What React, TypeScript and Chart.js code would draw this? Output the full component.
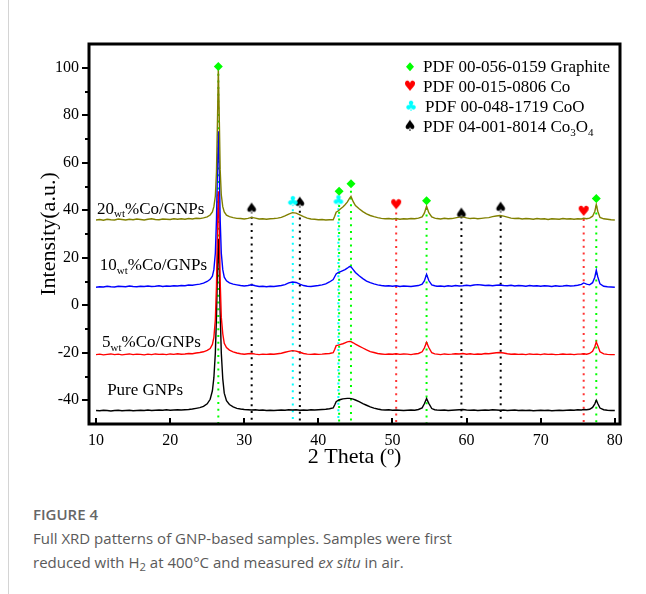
import React, { useEffect, useRef } from 'react';
import { Chart, registerables } from 'chart.js';
Chart.register(...registerables);

const SERIF = "'Liberation Serif', 'Times New Roman', serif";
Chart.defaults.font.family = SERIF;

// ---- axes ----
const X_TICKS = [10, 20, 30, 40, 50, 60, 70, 80];
const Y_TICKS = [-40, -20, 0, 20, 40, 60, 80, 100];
const Y_MINOR = [-30, -10, 10, 30, 50, 70, 90];

// ---- 2θ positions shared by all patterns ----
const TWO_THETA = [
  10, 10.5, 11, 11.5, 12, 12.5, 13, 13.5, 14, 14.5, 15, 15.5, 16, 16.5, 17, 17.5, 18, 18.5, 19, 19.5, 20, 20.5, 21, 21.5, 22, 22.5, 23, 23.5, 24, 24.5, 25,
  25.4, 25.7, 25.9, 26.1, 26.25, 26.4, 26.5, 26.6, 26.75, 26.9, 27.1, 27.3, 27.6,
  28, 28.5, 29, 29.5, 30, 30.5, 31, 31.5, 32, 32.5, 33, 33.5, 34, 34.5, 35, 35.5, 36, 36.5, 37, 37.5, 38, 38.5, 39, 39.5, 40, 40.5, 41, 41.5, 42,
  42.2, 42.4, 42.7, 43, 43.3, 43.6, 43.9, 44.2, 44.4, 44.7, 45,
  45.5, 46, 46.5, 47, 47.5, 48, 48.5, 49, 49.5, 50, 50.5, 51, 51.5, 52, 52.5, 53, 53.5, 54,
  54.3, 54.6, 54.9, 55.3, 55.7,
  56, 56.5, 57, 57.5, 58, 58.5, 59, 59.5, 60, 60.5, 61, 61.5, 62, 62.5, 63, 63.5, 64, 64.5, 65, 65.5, 66, 66.5, 67, 67.5, 68, 68.5, 69, 69.5, 70, 70.5, 71, 71.5, 72, 72.5, 73, 73.5, 74, 74.5, 75, 75.5,
  75.8, 76.2, 76.6, 77, 77.3, 77.5, 77.7, 78,
  78.5, 79, 79.5, 80,
];

const CO20_GNPS = [
  35.9, 36.1, 35.8, 36.2, 36.0, 35.9, 36.3, 36.1, 35.9, 36.2, 36.0, 36.3, 36.1, 35.9, 36.2, 36.4, 36.1, 36.0, 36.3, 36.2, 36.1, 36.4, 36.2, 36.4, 36.2, 36.5, 36.3, 36.6, 36.5, 36.8, 37.2,
  38.0, 39.3, 41.5, 46, 56, 80, 100, 84, 57, 46.5, 41.5, 39.3, 37.9,
  37.3, 36.9, 36.6, 36.5, 36.3, 36.6, 37.0, 36.7, 36.3, 36.4, 36.2, 36.4, 36.5, 36.7, 37.0, 37.6, 38.4, 39.0, 38.8, 38.1, 37.3, 36.7, 36.3, 36.2, 36.0, 36.1, 35.9, 36.0, 36.0,
  37.5, 39.2, 39.8, 40.6, 41.4, 42.3, 43.4, 45.0, 45.8, 43.6, 42.0,
  40.6, 39.4, 38.5, 37.8, 37.3, 36.9, 36.6, 36.4, 36.5, 36.3, 36.5, 36.2, 36.4, 36.3, 36.5, 36.4, 36.7, 37.2,
  38.8, 41.7, 39.0, 37.2, 36.7,
  36.5, 36.3, 36.6, 36.4, 36.5, 36.8, 37.1, 37.2, 36.8, 36.5, 36.7, 36.4, 36.6, 36.8, 36.9, 37.3, 37.6, 37.8, 37.5, 37.1, 36.7, 36.5, 36.6, 36.3, 36.5, 36.4, 36.2, 36.5, 36.3, 36.4, 36.1, 36.4, 36.3, 36.2, 36.5, 36.3, 36.4, 36.2, 36.4, 36.3,
  36.6, 36.4, 36.7, 37.5, 39.5, 42.4, 39.6, 37.0,
  36.4, 36.2, 36.0, 35.9,
];

const CO10_GNPS = [
  7.6, 7.8, 7.7, 8.0, 7.8, 7.7, 8.0, 7.9, 7.8, 8.1, 7.9, 7.8, 8.0, 7.9, 8.1, 7.9, 8.0, 8.2, 7.9, 8.1, 8.0, 8.2, 8.1, 8.3, 8.2, 8.5, 8.4, 8.7, 8.9, 9.3, 10.0,
  10.9, 12.2, 15.0, 22, 36, 60, 73.3, 62, 36, 22, 15, 11.8, 10.3,
  9.4, 8.9, 8.6, 8.3, 8.1, 8.3, 8.6, 8.2, 7.9, 8.0, 7.8, 8.0, 7.9, 8.1, 8.3, 8.7, 9.4, 9.8, 9.6, 8.9, 8.3, 8.0, 7.9, 8.1, 8.3, 8.6, 9.0, 9.8, 10.8,
  12.0, 13.2, 13.8, 14.2, 14.6, 15.0, 15.6, 16.3, 16.2, 15.0, 13.8,
  12.4, 11.2, 10.2, 9.5, 9.0, 8.6, 8.3, 8.1, 8.2, 8.0, 8.2, 7.9, 8.1, 8.0, 7.9, 8.1, 8.3, 8.9,
  10.2, 13.0, 10.4, 8.6, 8.2,
  8.0, 8.1, 7.9, 8.2, 8.0, 8.3, 8.1, 8.2, 8.4, 8.2, 8.5, 8.7, 8.5, 8.3, 8.4, 8.2, 8.4, 8.5, 8.3, 8.2, 8.4, 8.1, 8.3, 8.2, 8.0, 8.3, 8.1, 8.2, 8.0, 8.2, 8.1, 7.9, 8.2, 8.0, 8.1, 8.3, 8.1, 8.2, 8.4, 8.8,
  9.4, 8.9, 8.6, 9.5, 11.8, 14.7, 12.0, 9.0,
  8.0, 7.8, 7.7, 7.6,
];

const CO5_GNPS = [
  -20.8, -20.6, -20.9, -20.7, -20.5, -20.8, -20.6, -20.9, -20.7, -20.5, -20.8, -20.6, -20.7, -20.9, -20.6, -20.8, -20.5, -20.7, -20.6, -20.8, -20.5, -20.7, -20.4, -20.6, -20.5, -20.3, -20.4, -20.1, -19.9, -19.6, -19.0,
  -18.2, -16.5, -13.5, -6, 8, 35, 48, 38, 10, -5, -12, -16, -17.8,
  -18.9, -19.6, -20.1, -20.4, -20.6, -20.4, -20.3, -20.6, -20.8, -20.6, -20.7, -20.5, -20.6, -20.4, -20.2, -19.8, -19.4, -19.1, -19.3, -19.8, -20.3, -20.6, -20.7, -20.5, -20.7, -20.6, -20.4, -20.3, -20.0,
  -18.6, -17.0, -16.8, -16.5, -16.2, -15.8, -15.4, -15.2, -15.3, -15.8, -16.4,
  -17.2, -18.0, -18.8, -19.5, -19.9, -20.3, -20.5, -20.7, -20.5, -20.6, -20.4, -20.7, -20.5, -20.6, -20.8, -20.5, -20.3, -19.6,
  -18.0, -15.6, -17.8, -20.0, -20.5,
  -20.6, -20.8, -20.5, -20.7, -20.6, -20.4, -20.5, -20.3, -20.6, -20.4, -20.7, -20.5, -20.6, -20.3, -20.4, -20.2, -20.0, -19.9, -20.1, -20.4, -20.6, -20.5, -20.7, -20.6, -20.8, -20.5, -20.7, -20.6, -20.8, -20.5, -20.7, -20.6, -20.8, -20.7, -20.5, -20.7, -20.6, -20.8, -20.6, -20.5,
  -20.4, -20.6, -20.3, -19.4, -17.5, -15.4, -17.0, -19.6,
  -20.5, -20.7, -20.8, -20.8,
];

const PURE_GNPS = [
  -44.3, -44.4, -44.2, -44.3, -44.5, -44.3, -44.2, -44.4, -44.3, -44.2, -44.4, -44.3, -44.2, -44.3, -44.1, -44.3, -44.2, -44.1, -44.2, -44.0, -44.2, -44.1, -44.0, -44.1, -44.0, -43.9, -43.7, -43.4, -43.1, -42.6, -41.5,
  -39.6, -36.0, -30.5, -20, -5, 18, 28, 20, -3, -20, -31, -37, -40.2,
  -41.8, -42.8, -43.4, -43.7, -43.9, -44.0, -44.1, -44.0, -44.2, -44.1, -44.3, -44.2, -44.3, -44.2, -44.1, -44.2, -44.0, -44.1, -44.0, -44.2, -44.1, -44.2, -44.0, -44.1, -44.0, -43.9, -43.8, -43.6, -43.2,
  -42.0, -40.6, -40.0, -39.7, -39.4, -39.3, -39.2, -39.2, -39.3, -39.5, -39.9,
  -40.6, -41.4, -42.1, -42.8, -43.3, -43.7, -44.0, -44.1, -44.0, -44.2, -44.1, -44.2, -44.3, -44.2, -44.1, -44.2, -43.9, -43.2,
  -41.5, -39.3, -41.3, -43.5, -44.0,
  -44.1, -44.2, -44.1, -44.3, -44.2, -44.1, -44.0, -43.9, -44.1, -44.2, -44.1, -44.3, -44.2, -44.1, -44.2, -44.0, -44.1, -44.2, -44.1, -44.3, -44.2, -44.1, -44.3, -44.2, -44.3, -44.2, -44.4, -44.3, -44.2, -44.3, -44.2, -44.4, -44.3, -44.2, -44.3, -44.2, -44.1, -44.2, -44.0, -44.1,
  -43.9, -44.0, -43.8, -43.0, -41.5, -40.0, -41.4, -43.3,
  -44.0, -44.2, -44.3, -44.3,
];

// ---- phase reference markers (2θ, marker height) ----
const GRAPHITE_X = [26.5, 42.8, 44.4, 54.6, 77.5];
const GRAPHITE_Y = [100.5, 48, 51.2, 44, 44.9];
const CO_X = [50.5, 75.8];
const CO_Y = [42.1, 39.3];
const COO_X = [36.55, 42.7];
const COO_Y = [43.4, 43.8];
const CO3O4_X = [31, 37.5, 59.3, 64.6];
const CO3O4_Y = [40.3, 42.8, 38.2, 40.7];

// ---- sample labels ----
type Part = { t: string; sub?: boolean };
const SAMPLE_LABELS: Part[][] = [
  [{ t: '20' }, { t: 'wt', sub: true }, { t: '%Co/GNPs' }],
  [{ t: '10' }, { t: 'wt', sub: true }, { t: '%Co/GNPs' }],
  [{ t: '5' }, { t: 'wt', sub: true }, { t: '%Co/GNPs' }],
  [{ t: 'Pure GNPs' }],
];
const LABEL_X = [10.13, 10.5, 10.8, 11.5];
const LABEL_Y = [38.6, 14.7, -17.7, -37.6];

const LEGEND_TEXT: Part[][] = [
  [{ t: 'PDF 00-056-0159 Graphite' }],
  [{ t: 'PDF 00-015-0806 Co' }],
  [{ t: 'PDF 00-048-1719 CoO' }],
  [{ t: 'PDF 04-001-8014 Co' }, { t: '3', sub: true }, { t: 'O' }, { t: '4', sub: true }],
];

const GREEN = '#00ff00';
const RED = '#ff0000';
const CYAN = '#00ffff';
const OLIVE = '#808000';

function glyph(ch: string, color: string, size: number) {
  const c = document.createElement('canvas');
  c.width = 18;
  c.height = 18;
  const g = c.getContext('2d')!;
  g.fillStyle = color;
  g.font = `${size}px "DejaVu Sans"`;
  g.textAlign = 'center';
  g.textBaseline = 'middle';
  g.fillText(ch, 9, 9.5);
  return c;
}

function drawRich(ctx: CanvasRenderingContext2D, parts: Part[], x: number, y: number, size: number, subSize: number) {
  let cx = x;
  ctx.textAlign = 'left';
  ctx.textBaseline = 'alphabetic';
  for (const p of parts) {
    ctx.font = `${p.sub ? subSize : size}px ${SERIF}`;
    ctx.fillText(p.t, cx, p.sub ? y + size * 0.22 : y);
    cx += ctx.measureText(p.t).width;
  }
}

export default function App() {
  const ref = useRef<HTMLCanvasElement>(null);

  useEffect(() => {
    document.body.style.margin = '0';
    const canvas = ref.current!;
    const heart = glyph('\u2665', RED, 14);
    const club = glyph('\u2663', CYAN, 14);
    const spade = glyph('\u2660', '#000', 15);

    const phases = [
      { xs: GRAPHITE_X, ys: GRAPHITE_Y, color: GREEN },
      { xs: CO_X, ys: CO_Y, color: '#ff3333' },
      { xs: COO_X, ys: COO_Y, color: CYAN },
      { xs: CO3O4_X, ys: CO3O4_Y, color: '#000' },
    ];

    const decor = {
      id: 'decor',
      beforeDatasetsDraw(chart: any) {
        const { ctx, chartArea: a, scales } = chart;
        const sx = scales.x, sy = scales.y;
        ctx.save();
        ctx.beginPath();
        ctx.rect(a.left, a.top, a.right - a.left, a.bottom - a.top);
        ctx.clip();
        ctx.lineWidth = 2;
        ctx.setLineDash([2, 4.7]);
        for (const ph of phases) {
          ctx.strokeStyle = ph.color;
          ph.xs.forEach((xv: number, i: number) => {
            const px = sx.getPixelForValue(xv);
            ctx.beginPath();
            ctx.moveTo(px, sy.getPixelForValue(ph.ys[i] - 3));
            ctx.lineTo(px, a.bottom);
            ctx.stroke();
          });
        }
        ctx.restore();
      },
      afterDraw(chart: any) {
        const { ctx, chartArea: a, scales } = chart;
        const sx = scales.x, sy = scales.y;
        ctx.save();
        ctx.strokeStyle = '#000';
        ctx.lineWidth = 2;
        // x ticks (inward)
        for (const v of X_TICKS) {
          const px = Math.round(sx.getPixelForValue(v));
          ctx.beginPath();
          ctx.moveTo(px, a.bottom);
          ctx.lineTo(px, a.bottom - 6);
          ctx.stroke();
        }
        // y ticks (outward)
        for (const v of Y_TICKS) {
          const py = Math.round(sy.getPixelForValue(v));
          ctx.beginPath();
          ctx.moveTo(a.left, py);
          ctx.lineTo(a.left - 7, py);
          ctx.stroke();
        }
        for (const v of Y_MINOR) {
          const py = Math.round(sy.getPixelForValue(v));
          ctx.beginPath();
          ctx.moveTo(a.left, py);
          ctx.lineTo(a.left - 4, py);
          ctx.stroke();
        }
        // frame
        ctx.lineWidth = 3;
        ctx.strokeRect(a.left, a.top, a.right - a.left, a.bottom - a.top);

        // sample labels
        ctx.fillStyle = '#000';
        SAMPLE_LABELS.forEach((parts, i) => {
          drawRich(ctx, parts, sx.getPixelForValue(LABEL_X[i]), sy.getPixelForValue(LABEL_Y[i]), 17, 11);
        });

        // legend
        const mx = a.right - 210;
        const tx = a.right - 197;
        LEGEND_TEXT.forEach((parts, i) => {
          const by = a.top + 28.3 + i * 20;
          const cy = by - 5.5;
          if (i === 0) {
            ctx.fillStyle = GREEN;
            ctx.beginPath();
            ctx.moveTo(mx, cy - 4.5);
            ctx.lineTo(mx + 4, cy);
            ctx.lineTo(mx, cy + 4.5);
            ctx.lineTo(mx - 4, cy);
            ctx.closePath();
            ctx.fill();
          } else {
            const img = i === 1 ? heart : i === 2 ? club : spade;
            ctx.drawImage(img, mx - 9 + (i === 2 ? 1 : 0), cy - 9);
          }
          ctx.fillStyle = '#000';
          drawRich(ctx, parts, tx + (i === 2 ? 2 : 0), by, 17, 11);
        });
        ctx.restore();
      },
    };

    const series = (arr: number[]) => TWO_THETA.map((x, i) => ({ x, y: arr[i] }));
    const pts = (xs: number[], ys: number[]) => xs.map((x, i) => ({ x, y: ys[i] }));
    const line = (label: string, arr: number[], color: string) => ({
      label,
      data: series(arr),
      borderColor: color,
      borderWidth: 1.4,
      pointRadius: 0,
      tension: 0,
      fill: false,
    });
    const marks = (label: string, xs: number[], ys: number[], style: any, color: string, radius: number) => ({
      label,
      data: pts(xs, ys),
      showLine: false,
      pointStyle: style,
      pointRadius: radius,
      pointBackgroundColor: color,
      pointBorderColor: color,
      pointBorderWidth: 0,
    });

    const chart = new Chart(canvas, {
      type: 'line',
      data: {
        datasets: [
          marks('Graphite', GRAPHITE_X, GRAPHITE_Y, 'rectRot', GREEN, 4.5),
          marks('Co', CO_X, CO_Y, heart, RED, 6),
          marks('CoO', COO_X, COO_Y, club, CYAN, 6),
          marks('Co3O4', CO3O4_X, CO3O4_Y, spade, '#000', 6),
          line('20wt%Co/GNPs', CO20_GNPS, OLIVE),
          line('10wt%Co/GNPs', CO10_GNPS, '#0000ff'),
          line('5wt%Co/GNPs', CO5_GNPS, RED),
          line('Pure GNPs', PURE_GNPS, '#000'),
        ] as any,
      },
      options: {
        responsive: false,
        animation: false,
        events: [],
        layout: { padding: { left: 0, right: 26, top: 44, bottom: 0 } },
        plugins: { legend: { display: false }, tooltip: { enabled: false } },
        scales: {
          x: {
            type: 'linear',
            min: 9.05,
            max: 80.7,
            afterBuildTicks: (s: any) => {
              s.ticks = X_TICKS.map((v) => ({ value: v }));
            },
            afterFit: (s: any) => {
              s.height = 56;
            },
            grid: { display: false, drawTicks: false },
            border: { display: false },
            ticks: {
              color: '#000',
              font: { family: SERIF, size: 16 },
              padding: 7,
              maxRotation: 0,
              autoSkip: false,
              callback: (v: any) => String(v),
            },
            title: {
              display: true,
              text: '2 Theta (\u00BA)',
              color: '#000',
              font: { family: SERIF, size: 22 },
              padding: { top: 0, bottom: 10 },
            },
          },
          y: {
            type: 'linear',
            min: -50,
            max: 110,
            afterBuildTicks: (s: any) => {
              s.ticks = Y_TICKS.map((v) => ({ value: v }));
            },
            afterFit: (s: any) => {
              s.width = 89;
            },
            grid: { display: false, drawTicks: false },
            border: { display: false },
            ticks: {
              color: '#000',
              font: { family: SERIF, size: 16 },
              padding: 10,
              autoSkip: false,
              callback: (v: any) => String(v),
            },
            title: {
              display: true,
              text: 'Intensity(a.u.)',
              color: '#000',
              font: { family: SERIF, size: 22 },
              padding: { top: 36, bottom: 0 },
            },
          },
        },
      } as any,
      plugins: [decor],
    });
    return () => chart.destroy();
  }, []);

  return (
    <div style={{ position: 'relative', width: 646, height: 594, background: '#fff', overflow: 'hidden' }}>
      <div style={{ position: 'absolute', left: 8, top: 0, width: 1, height: 594, background: '#d4d4d4' }} />
      <canvas ref={ref} width={646} height={480} style={{ position: 'absolute', left: 0, top: 0, width: 646, height: 480 }} />
      <div
        style={{
          position: 'absolute',
          left: 33,
          top: 504,
          fontFamily: '"Open Sans", sans-serif',
          fontWeight: 600,
          fontSize: 15,
          color: '#666',
          whiteSpace: 'nowrap',
        }}
      >
        FIGURE 4
      </div>
      <div
        style={{
          position: 'absolute',
          left: 33,
          top: 526,
          fontFamily: '"Open Sans", sans-serif',
          fontSize: 15,
          lineHeight: '24px',
          color: '#5a5a5a',
          whiteSpace: 'nowrap',
        }}
      >
        Full XRD patterns of GNP-based samples. Samples were first
        <br />
        reduced with H<sub style={{ fontSize: '0.75em', verticalAlign: '-0.25em', lineHeight: 0 }}>2</sub> at 400°C and measured{' '}
        <i>ex situ</i> in air.
      </div>
    </div>
  );
}
